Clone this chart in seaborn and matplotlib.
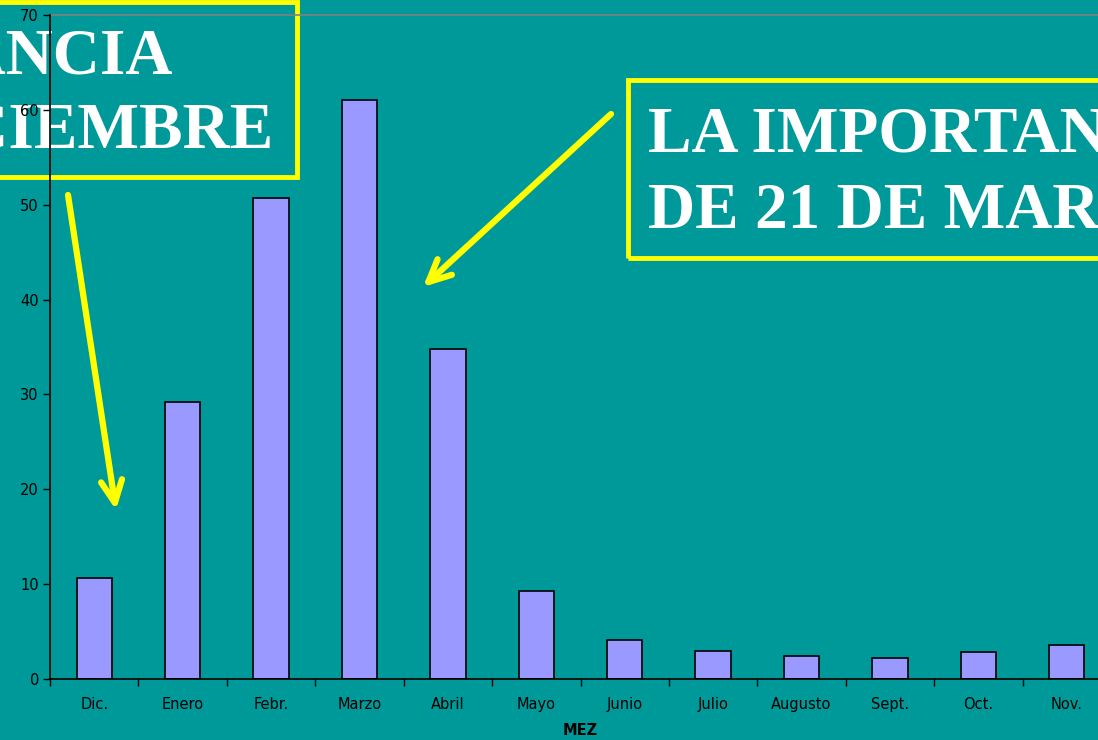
import matplotlib
matplotlib.use("Agg")
import matplotlib.pyplot as plt
import matplotlib.patches as mpatches
from matplotlib.text import Annotation
import seaborn as sns
import pandas as pd

months = ["Dic.", "Enero", "Febr.", "Marzo", "Abril", "Mayo", "Junio",
          "Julio", "Augusto", "Sept.", "Oct.", "Nov."]
values = [10.65, 29.2, 50.7, 61.0, 34.8, 9.3, 4.1, 2.95, 2.4, 2.2, 2.85, 3.6]
yticks = [0, 10, 20, 30, 40, 50, 60, 70]
x_title = "MEZ"
left_note = ["LA IMPORTANCIA", "DE 21 DE DICIEMBRE"]
right_note = ["LA IMPORTANCIA", "DE 21 DE MARZO"]

BG = "#009999"
BAR = "#9999FF"
YEL = "#FFFF00"

sns.set_theme(style="white")
plt.rcParams["font.family"] = ["DejaVu Sans"]

W, H = 1098, 740
fig = plt.figure(figsize=(W / 100, H / 100), dpi=100, facecolor=BG)
ax = fig.add_axes([50 / W, 61 / H, (1111 - 50) / W, 664 / H])
ax.set_facecolor("none")
ax.set_zorder(2)

df = pd.DataFrame({"mes": months, "val": values})
sns.barplot(data=df, x="mes", y="val", color=BAR, saturation=1,
            edgecolor="black", linewidth=1.2, width=0.4, ax=ax)

ax.set_xlim(-0.5, len(months) - 0.5)
ax.set_ylim(0, 70)
ax.set_yticks(yticks)
ax.set_yticklabels([str(v) for v in yticks], fontsize=10.5, color="black")
ax.set_xticks(range(len(months)))
ax.set_xticklabels(months, fontsize=10.5, color="black")
ax.set_xticks([i - 0.5 for i in range(len(months) + 1)], minor=True)
ax.tick_params(axis="x", which="major", length=0, pad=13)
ax.tick_params(axis="x", which="minor", length=5, width=1, color="black",
               direction="out", bottom=True)
ax.tick_params(axis="y", length=5, width=1, color="black", direction="out",
               left=True, pad=3)
ax.axhline(70, color="#808080", lw=1.2, zorder=0, clip_on=False)
for s in ["top", "right"]:
    ax.spines[s].set_visible(False)
for s in ["left", "bottom"]:
    ax.spines[s].set_color("black")
    ax.spines[s].set_linewidth(1.2)
ax.set_ylabel("")
ax.set_xlabel(x_title, fontsize=10.5, fontweight="bold", color="black",
              labelpad=8)

# Annotation boxes (drawn beneath the axes)
fig.patches.append(mpatches.Rectangle((-10 / W, (H - 177) / H), 307 / W, 175 / H,
                                      transform=fig.transFigure, fill=False,
                                      edgecolor=YEL, lw=3.5, zorder=1))
fig.patches.append(mpatches.Rectangle((628 / W, (H - 258) / H), 490 / W, 178 / H,
                                      transform=fig.transFigure, fill=False,
                                      edgecolor=YEL, lw=3.5, zorder=1))
tkw = dict(fontsize=47, fontweight="bold", color="white",
           family=["Liberation Serif", "DejaVu Serif"], va="baseline", zorder=1)
fig.text(172 / W, (H - 73) / H, left_note[0], ha="right", **tkw)
fig.text(273 / W, (H - 148) / H, left_note[1], ha="right", **tkw)
fig.text(648 / W, (H - 152) / H, right_note[0], ha="left", **tkw)
fig.text(648 / W, (H - 228) / H, right_note[1], ha="left", **tkw)

akw = dict(xycoords="figure pixels", textcoords="figure pixels",
           arrowprops=dict(arrowstyle="->,head_length=0.8,head_width=0.38",
                           color=YEL, lw=4.5, mutation_scale=20,
                           shrinkA=0, shrinkB=0))
for tip, tail in [((116, H - 510), (68, H - 195)), ((423, H - 287), (611, H - 114))]:
    an = Annotation("", xy=tip, xytext=tail, **akw)
    an.set_zorder(3)
    fig.add_artist(an)

fig.savefig("out.png", dpi=100, facecolor=BG)
